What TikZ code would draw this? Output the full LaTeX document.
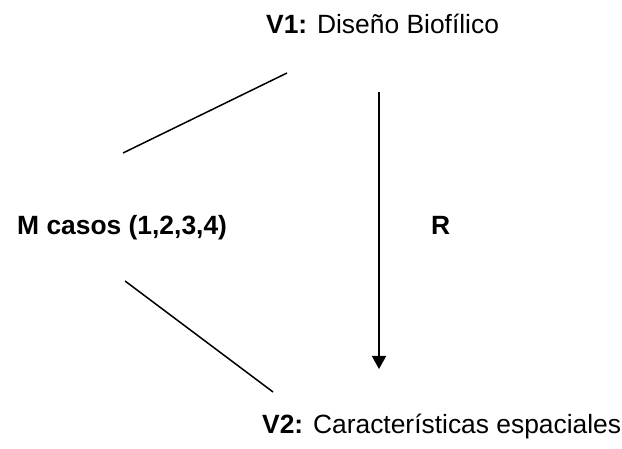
\documentclass[tikz,border=0pt]{standalone}
\usepackage{fontspec}
\setmainfont{Liberation Sans}
\usetikzlibrary{arrows.meta}
\begin{document}
\begin{tikzpicture}[x=1pt,y=-1pt,
  lbl/.style={inner sep=0pt,anchor=base west,font=\fontsize{26.4}{30}\selectfont},
  conn/.style={line width=1.5pt,line cap=butt},
  arr/.style={line width=1.5pt,-{Triangle[length=13pt,width=14pt]}}]
\useasboundingbox[fill=white] (0,0) rectangle (622,449);
\node[lbl] (v1) at (266,34) {\textbf{V1:} Diseño Biofílico};
\node[lbl] (v2) at (262,434) {\textbf{V2:} Características espaciales};
\node[lbl] (m) at (17,235) {\textbf{M casos (1,2,3,4)}};
\node[lbl] (r) at (431,235) {\textbf{R}};
\coordinate (a1) at (123,153);
\coordinate (a2) at (287,73);
\coordinate (b1) at (125,281);
\coordinate (b2) at (273,392);
\coordinate (c1) at (379,92);
\coordinate (c2) at (379,369);
\draw[conn] (a1) -- (a2);
\draw[conn] (b1) -- (b2);
\draw[arr] (c1) -- (c2);
\end{tikzpicture}
\end{document}
